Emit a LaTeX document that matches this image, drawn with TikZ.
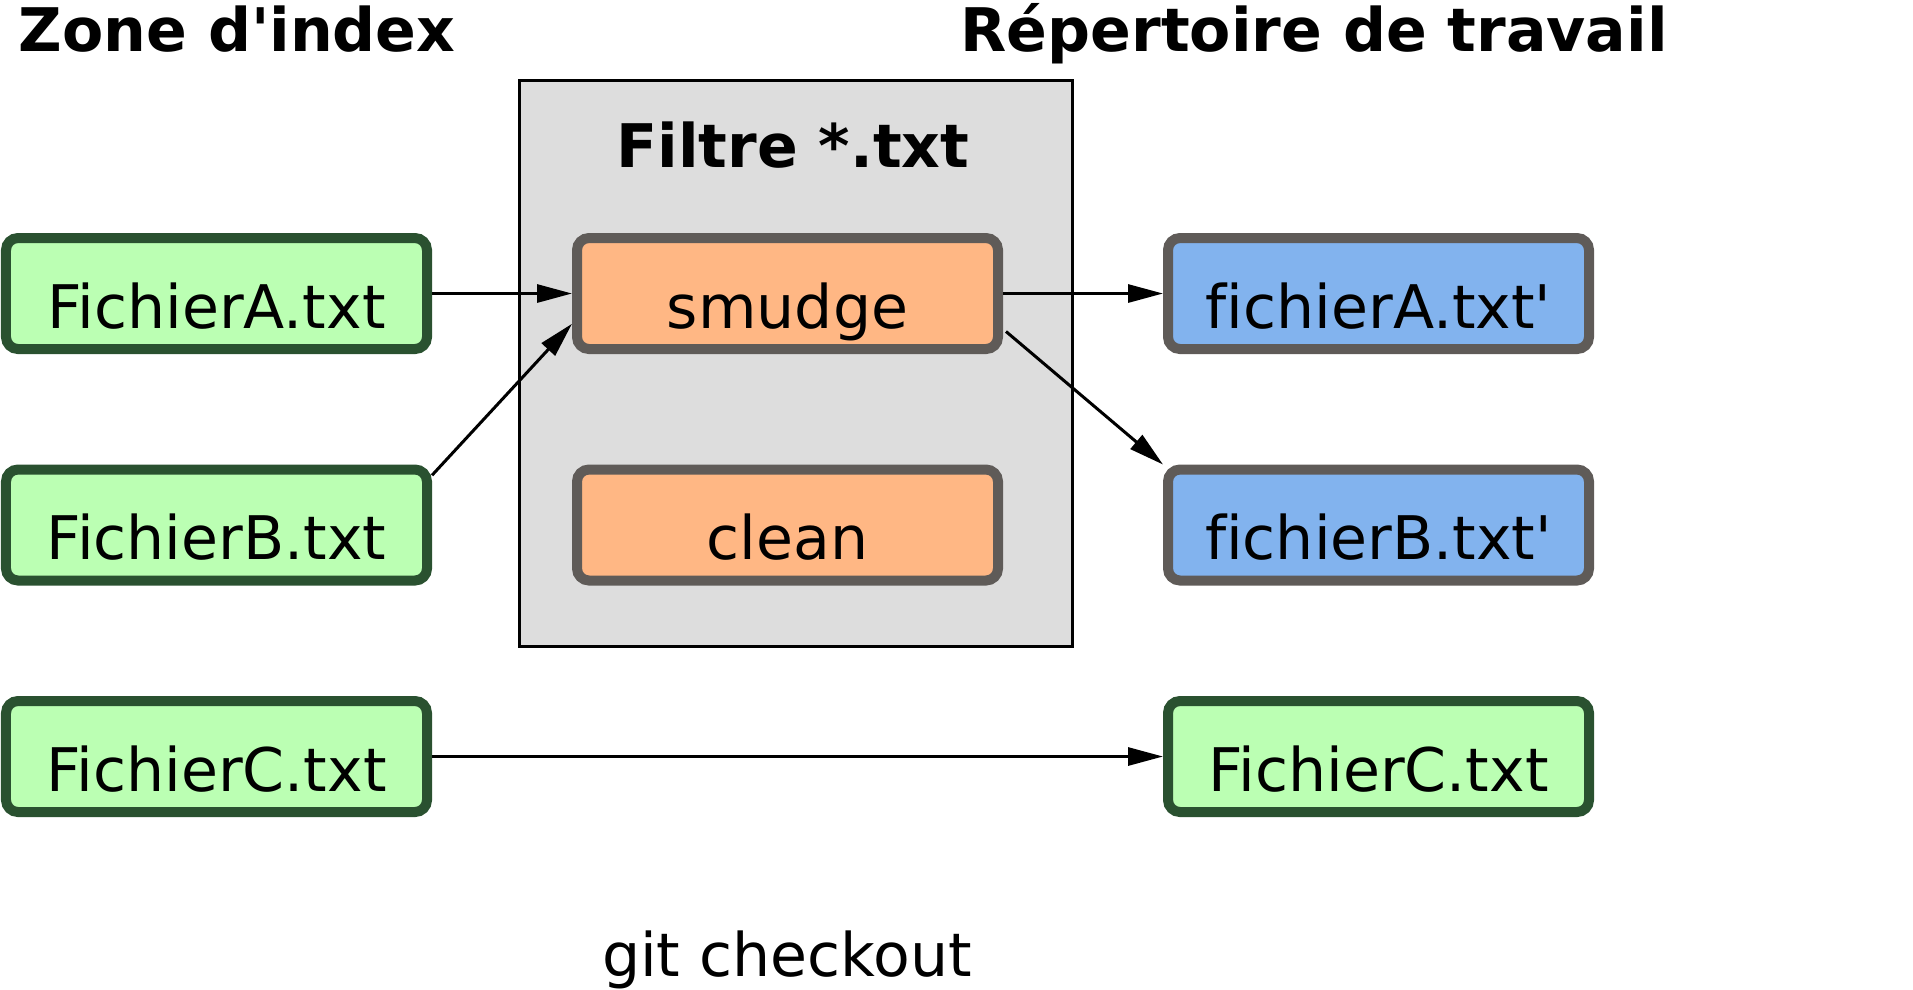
\documentclass[tikz,border=0pt]{standalone}
\usepackage{fontspec}
\setmainfont{DejaVu Sans}[Ligatures={TeXOff,CommonOff}]
\usepackage{tikz}
\usepackage{xcolor}
\usetikzlibrary{arrows.meta}
\definecolor{idxfill}{HTML}{BBFFB3}
\definecolor{idxline}{HTML}{2A5130}
\definecolor{filtfill}{HTML}{FFB784}
\definecolor{boxline}{HTML}{5F5B58}
\definecolor{wdfill}{HTML}{82B3EE}
\definecolor{filtbg}{HTML}{DDDDDD}

\begin{document}
\begin{tikzpicture}[
    file/.style={draw,rounded corners=0.12cm,line width=0.1cm,inner sep=0pt,
      minimum width=4.21cm,text height=0.90cm,text depth=0.21cm,
      font=\fontsize{17.1}{20}\selectfont},
    idx/.style={file,fill=idxfill,draw=idxline},
    filt/.style={file,fill=filtfill,draw=boxline},
    wd/.style={file,fill=wdfill,draw=boxline},
    flow/.style={-{Triangle[length=0.35cm,width=0.18cm]},line width=0.03cm},
    title/.style={font=\fontsize{17.1}{20}\selectfont\bfseries,inner sep=0pt}
  ]
  \useasboundingbox (0,0) rectangle (19.13,-9.89);

  \node (flt) [draw,fill=filtbg,line width=0.03cm,inner sep=0pt,
    minimum width=5.53cm,minimum height=5.66cm] at (7.96,-3.635) {};
  \node (ft) [title,anchor=base] at (7.93,-1.67) {Filtre *.txt};

  \node (zi) [title,anchor=base west] at (0.18,-0.51) {Zone d'index};
  \node (rt) [title,anchor=base west] at (9.60,-0.51) {Répertoire de travail};

  \node (fa) [idx] at (2.165,-2.935) {FichierA.txt};
  \node (fb) [idx] at (2.165,-5.25) {FichierB.txt};
  \node (fc) [idx] at (2.165,-7.565) {FichierC.txt};

  \node (sm) [filt] at (7.875,-2.935) {smudge};
  \node (cl) [filt] at (7.875,-5.25) {clean};

  \node (wa) [wd] at (13.785,-2.935) {fichierA.txt'};
  \node (wb) [wd] at (13.785,-5.25) {fichierB.txt'};
  \node (wc) [idx] at (13.785,-7.565) {FichierC.txt};

  \node (gc) [anchor=base,font=\fontsize{17.1}{20}\selectfont,inner sep=0pt]
    at (7.87,-9.76) {git checkout};

  \draw[flow] (fa) -- (sm);
  \draw[flow] (fb.13) -- (sm.188);
  \draw[flow] (sm) -- (wa);
  \draw[flow] ([xshift=0.03cm]sm.-10) -- (wb.north west);
  \draw[flow] (fc) -- (wc);
\end{tikzpicture}
\end{document}
